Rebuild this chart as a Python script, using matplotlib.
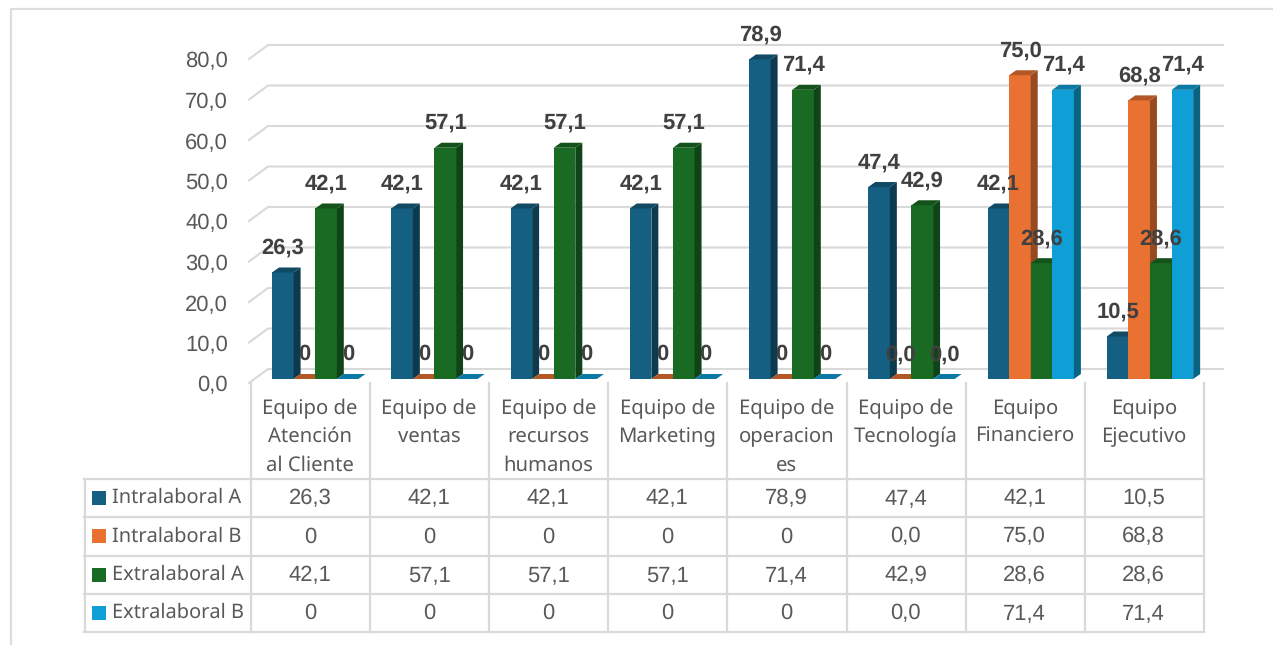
import matplotlib
matplotlib.use("Agg")
import matplotlib.pyplot as plt
from matplotlib.patches import Polygon, Rectangle

plt.rcParams["text.hinting"] = "none"
plt.rcParams["text.hinting_factor"] = 1

W, H = 1273, 645
categories = ["Equipo de\nAtención\nal Cliente", "Equipo de\nventas", "Equipo de\nrecursos\nhumanos",
              "Equipo de\nMarketing", "Equipo de\noperacion\nes", "Equipo de\nTecnología",
              "Equipo\nFinanciero", "Equipo\nEjecutivo"]
intra_a = [26.3, 42.1, 42.1, 42.1, 78.9, 47.4, 42.1, 10.5]
intra_b = [0, 0, 0, 0, 0, 0.0, 75.0, 68.8]
extra_a = [42.1, 57.1, 57.1, 57.1, 71.4, 42.9, 28.6, 28.6]
extra_b = [0, 0, 0, 0, 0, 0.0, 71.4, 71.4]
series_names = ["Intralaboral A", "Intralaboral B", "Extralaboral A", "Extralaboral B"]
series = [intra_a, intra_b, extra_a, extra_b]
colors = ["#156082", "#E97132", "#196B24", "#0F9ED5"]
side_colors = ["#0D3A4F", "#97491F", "#104317", "#096383"]
top_colors = ["#104A64", "#B35726", "#13521B", "#0B79A3"]
# labels as printed: the first five teams show plain 0, Tecnología shows 0,0
str_a = ["26,3", "42,1", "42,1", "42,1", "78,9", "47,4", "42,1", "10,5"]
str_b = ["0", "0", "0", "0", "0", "0,0", "75,0", "68,8"]
str_c = ["42,1", "57,1", "57,1", "57,1", "71,4", "42,9", "28,6", "28,6"]
str_d = ["0", "0", "0", "0", "0", "0,0", "71,4", "71,4"]
strs = [str_a, str_b, str_c, str_d]
yticks = [0, 10, 20, 30, 40, 50, 60, 70, 80]

GRID = "#D9D9D9"
TXT = "#595959"
LBL = "#404040"
TFONT = "Noto Sans"
NFONT = "Liberation Sans"

fig = plt.figure(figsize=(W / 100, H / 100), dpi=100)
bg = fig.add_axes([0, 0, 1, 1])
bg.set_xlim(0, W); bg.set_ylim(H, 0); bg.axis("off")

# outer frame: only left and top edges are visible
bg.plot([10.5, 10.5, W], [H, 8.5, 8.5], color="#DDDDDD", lw=1.6, zorder=0)

# main axes: x in category units, y in value units
L, R, T0, B0 = 251.0, 1205.0, 55.0, 379.0
ax = fig.add_axes([L / W, 1 - B0 / H, (R - L) / W, (B0 - T0) / H])
ax.set_xlim(0, 8); ax.set_ylim(0, 80); ax.axis("off")
ux = (R - L) / 8
uy = (B0 - T0) / 80
def dx(p): return p / ux
def dy(p): return p / uy

# gridlines: sloped floor edge then back wall
for v in yticks:
    ax.plot([dx(-2), dx(17), dx(972)], [v + dy(-4), v + dy(10), v + dy(10)], color=GRID, lw=1.5,
            clip_on=False, zorder=1, solid_joinstyle="miter")
    ax.text(dx(-23), v + dy(-7), f"{v:.1f}".replace(".", ","), ha="right", va="center",
            fontsize=16.1, color=TXT, family=NFONT, clip_on=False)

bw = 21.6
start = 21.0
dpx, dpy = 7.0, 5.0
for g in range(8):
    for s in range(4):
        v = series[s][g]
        x0 = g + dx(start + s * bw)
        w = dx(bw)
        z = 3 + s
        ax.bar(x0, v, width=w, align="edge", color=colors[s], zorder=z, clip_on=False)
        x1 = x0 + w
        ax.add_patch(Polygon([(x1, 0), (x1 + dx(dpx), dy(dpy)), (x1 + dx(dpx), v + dy(dpy)), (x1, v)],
                             closed=True, fc=side_colors[s], ec="none", zorder=z, clip_on=False))
        ax.add_patch(Polygon([(x0, v), (x0 + dx(dpx), v + dy(dpy)), (x1 + dx(dpx), v + dy(dpy)), (x1, v)],
                             closed=True, fc=top_colors[s], ec="none", zorder=z, clip_on=False))
for g in range(8):
    for s in range(4):
        v = series[s][g]
        x0 = g + dx(start + s * bw)
        ax.text(x0 + dx(11), v + dy(24.5), strs[s][g], ha="center", va="center", fontsize=16.1,
                weight="bold", color=LBL, family=NFONT, zorder=20, clip_on=False)

# data table, in figure pixels
rows = [479.0, 517.0, 555.5, 593.5, 632.0]
cols = [L + i * 119.1 for i in range(9)]
bg2 = fig.add_axes([0, 0, 1, 1], facecolor="none")
bg2.set_xlim(0, W); bg2.set_ylim(H, 0); bg2.axis("off")
for c in cols:
    bg2.plot([c, c], [383, rows[-1]], color=GRID, lw=1.6, zorder=1)
bg2.plot([84.5, 84.5], [rows[0], rows[-1]], color=GRID, lw=1.6, zorder=1)
for r in rows:
    bg2.plot([84, cols[-1]], [r, r], color=GRID, lw=1.6, zorder=1)
for g, name in enumerate(categories):
    cx = (cols[g] + cols[g + 1]) / 2
    for k, line in enumerate(name.split("\n")):
        bg2.text(cx - 0.5, 408.5 + k * 28.5, line, ha="center", va="center", fontsize=14.6, color=TXT, family=TFONT)
for s, name in enumerate(series_names):
    yc = (rows[s] + rows[s + 1]) / 2
    bg2.add_patch(Rectangle((92, yc - 7), 14, 14, fc=colors[s], ec="none", zorder=2))
    bg2.text(112, yc, name, ha="left", va="center", fontsize=14.4, color=TXT, family=TFONT)
    for g in range(8):
        bg2.text((cols[g] + cols[g + 1]) / 2 - 0.5, yc + 0.5, strs[s][g], ha="center", va="center",
                 fontsize=16.1, color=TXT, family=NFONT)

fig.savefig("out.png", dpi=100)
